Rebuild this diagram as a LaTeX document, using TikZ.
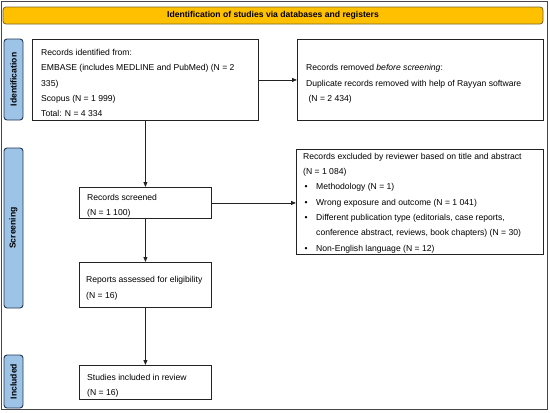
\documentclass[tikz,border=0pt]{standalone}
\usepackage{fontspec}
\setmainfont{Liberation Sans}
\usetikzlibrary{arrows.meta}
\definecolor{hdrfill}{RGB}{255,192,0}
\definecolor{hdrline}{RGB}{120,100,40}
\definecolor{labfill}{RGB}{157,195,230}
\definecolor{labline}{RGB}{35,55,85}
\definecolor{boxline}{RGB}{35,35,35}
\definecolor{frameline}{RGB}{70,70,70}
\newcommand{\bulitem}{\makebox[13pt][l]{\hspace{1.5pt}•}}
\newcommand{\contind}{\hspace*{13pt}}
\newcommand{\fstrut}{\rule{0pt}{6.6pt}}
\begin{document}
\begin{tikzpicture}[x=1pt,y=-1pt,
  boxnode/.style={draw=boxline, line width=0.9pt, rectangle, inner sep=0pt, anchor=north west},
  txt/.style={anchor=north west, inner sep=0pt, align=left, font=\fontsize{8.6}{15.3}\selectfont},
  lab/.style={draw=labline, fill=labfill, line width=0.9pt, rounded corners=3pt, rotate=90, inner sep=0pt, font=\bfseries\fontsize{8.6}{10}\selectfont},
  arr/.style={-{Triangle[length=5pt,width=4pt]}, line width=0.8pt, draw=boxline},
]
\useasboundingbox (0,0) rectangle (550,413);
% outer frame
\draw[draw=frameline, line width=1pt] (1,1) rectangle (547,409);
% header
\node[draw=hdrline, fill=hdrfill, line width=0.8pt, rounded corners=3pt, minimum width=540pt, minimum height=17pt, inner sep=0pt, font=\bfseries\fontsize{8.6}{10}\selectfont] (hdr) at (273,15.5) {Identification of studies via databases and registers};
% phase labels
\node[lab, minimum width=81pt, minimum height=19pt] (lid) at (13.5,79.5) {Identification};
\node[lab, minimum width=160pt, minimum height=19pt] (lsc) at (13.5,228) {Screening};
\node[lab, minimum width=53pt, minimum height=19pt] (lin) at (13.5,381.5) {Included};
% boxes
\node[boxnode, minimum width=226pt, minimum height=81pt] (b1) at (32,39) {};
\node[boxnode, minimum width=246pt, minimum height=81pt] (b2) at (297,39) {};
\node[boxnode, minimum width=247pt, minimum height=105pt] (ex) at (296,149) {};
\node[boxnode, minimum width=132pt, minimum height=31pt] (sc) at (79,187) {};
\node[boxnode, minimum width=132pt, minimum height=45pt] (rp) at (79,262) {};
\node[boxnode, minimum width=132pt, minimum height=34pt] (st) at (79,365) {};
% texts
\node[txt] (t1) at (41,48.6) {\fstrut Records identified from:\\EMBASE (includes MEDLINE and PubMed) (N = 2\\335)\\Scopus (N = 1 999)\\Total: N = 4 334};
\node[txt] (t2) at (306,63.9) {\fstrut Records removed \textit{before screening}:\\Duplicate records removed with help of Rayyan software\\\hspace*{2.4pt}(N = 2 434)};
\node[txt] (tex) at (303,152.4) {\fstrut Records excluded by reviewer based on title and abstract\\(N = 1 084)\\\bulitem Methodology (N = 1)\\\bulitem Wrong exposure and outcome (N = 1 041)\\\bulitem Different publication type (editorials, case reports,\\\contind conference abstract, reviews, book chapters) (N = 30)\\\bulitem Non-English language (N = 12)};
\node[txt] (tsc) at (87,193.4) {\fstrut Records screened\\(N = 1 100)};
\node[txt] (trp) at (86,276) {\fstrut Reports assessed for eligibility\\(N = 16)};
\node[txt] (tst) at (87,373.2) {\fstrut Studies included in review\\(N = 16)};
% arrows
\draw[arr] (b1.east) -- (b1.east -| b2.west);
\draw[arr] (sc.east) -- (sc.east -| ex.west);
\draw[arr] (b1.south) -- (sc.north);
\draw[arr] (sc.south) -- (rp.north);
\draw[arr] (rp.south) -- (st.north);
\end{tikzpicture}
\end{document}
